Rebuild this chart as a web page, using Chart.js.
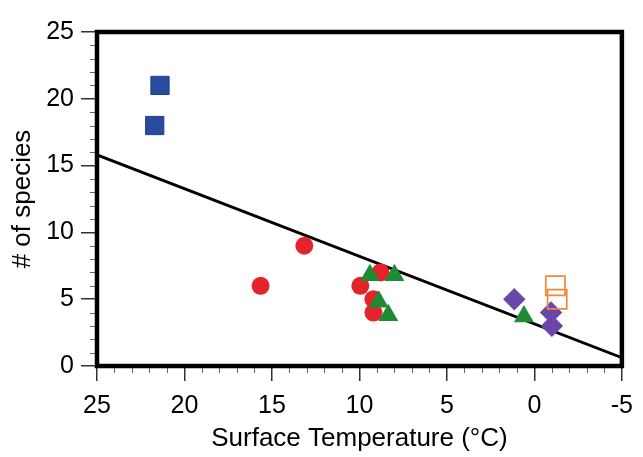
<!DOCTYPE html>
<html><head><meta charset="utf-8">
<script src="https://cdn.jsdelivr.net/npm/chart.js@4.4.0/dist/chart.umd.min.js"></script>
<style>html,body{margin:0;padding:0;background:#fff;}</style>
</head><body>
<canvas id="c" width="643" height="457" style="display:block;width:643px;height:457px"></canvas>
<script>
// ---- data ----
const xTickValues = [25, 20, 15, 10, 5, 0, -5];
const yTickValues = [0, 5, 10, 15, 20, 25];
const blueX = [21.4, 21.7];           const blueY = [21, 18];
const redX = [15.65, 13.15, 9.95, 8.8, 9.2, 9.2];  const redY = [6, 9, 6, 7, 5, 4];
const greenX = [9.4, 8.0, 8.9, 8.35, 0.6];          const greenY = [6.8, 6.8, 4.8, 3.8, 3.7];
const purpleX = [1.15, -0.95, -1.0];  const purpleY = [5, 4, 3];
const orangeX = [-1.2, -1.3];         const orangeY = [6, 5];
const fitX = [25, -5];                const fitY = [15.8, 0.62];
const xTitle = 'Surface Temperature (°C)';
const yTitle = '# of species';
const minorStep = 1;

const pts = (xs, ys) => xs.map((v, i) => ({x: v, y: ys[i]}));
const FONT = '"Liberation Sans", Arial, Helvetica, sans-serif';

const framePlugin = {
  id: 'frame',
  afterDatasetsDraw(chart) {
    const {ctx, chartArea: a, scales: {x, y}} = chart;
    ctx.save();
    ctx.strokeStyle = '#666'; ctx.lineWidth = 1;
    for (let v = x.min; v <= x.max; v += minorStep) {
      if (xTickValues.includes(v)) continue;
      const px = Math.round(x.getPixelForValue(v)) + 0.5;
      ctx.beginPath(); ctx.moveTo(px, a.bottom + 2); ctx.lineTo(px, a.bottom + 7); ctx.stroke();
    }
    for (let v = y.min; v <= y.max; v += minorStep) {
      if (yTickValues.includes(v)) continue;
      const py = Math.round(y.getPixelForValue(v)) + 0.5;
      ctx.beginPath(); ctx.moveTo(a.left - 2, py); ctx.lineTo(a.left - 7, py); ctx.stroke();
    }
    ctx.strokeStyle = '#000'; ctx.lineWidth = 4.5;
    ctx.strokeRect(a.left, a.top, a.right - a.left, a.bottom - a.top);
    ctx.restore();
  }
};

new Chart(document.getElementById('c'), {
  type: 'scatter',
  data: {
    datasets: [
      {data: pts(orangeX, orangeY), pointStyle: 'rect', pointRadius: 13.6, backgroundColor: 'rgba(0,0,0,0)', borderColor: '#f0883a', borderWidth: 1.7},
      {data: pts(purpleX, purpleY), pointStyle: 'rectRot', pointRadius: 11.2, backgroundColor: '#6a46a8', borderColor: '#6a46a8', borderWidth: 0},
      {data: pts(greenX, greenY), pointStyle: 'triangle', pointRadius: 11.5, backgroundColor: '#1f8c35', borderColor: '#1f8c35', borderWidth: 0},
      {data: pts(redX, redY), pointStyle: 'circle', pointRadius: 9, backgroundColor: '#e5232b', borderColor: '#e5232b', borderWidth: 0},
      {data: pts(blueX, blueY), pointStyle: 'rect', pointRadius: 12.9, backgroundColor: '#2a4a9e', borderColor: '#223d8a', borderWidth: 1},
      {type: 'line', data: pts(fitX, fitY), borderColor: '#000', borderWidth: 2.8, pointRadius: 0, fill: false, order: 10}
    ]
  },
  options: {
    responsive: false, animation: false, devicePixelRatio: 1,
    events: [],
    layout: {padding: {left: 0, top: 32, right: 18, bottom: 0}},
    plugins: {legend: {display: false}, tooltip: {enabled: false}},
    scales: {
      x: {
        type: 'linear', min: -5, max: 25, reverse: true,
        afterFit: s => { s.height = 91; },
        afterBuildTicks: s => { s.ticks = xTickValues.map(v => ({value: v})); },
        ticks: {color: '#000', font: {family: FONT, size: 25}, padding: 10, callback: v => String(v)},
        grid: {drawOnChartArea: false, drawTicks: true, tickLength: 15, color: '#333', lineWidth: 1.5},
        border: {display: false},
        title: {display: true, text: xTitle, color: '#000', font: {family: FONT, size: 26}, padding: {top: 0, bottom: 2.5}}
      },
      y: {
        type: 'linear', min: 0, max: 25,
        afterFit: s => { s.width = 97; },
        afterBuildTicks: s => { s.ticks = yTickValues.map(v => ({value: v})); },
        ticks: {color: '#000', font: {family: FONT, size: 25}, padding: 7, callback: v => String(v)},
        grid: {drawOnChartArea: false, drawTicks: true, tickLength: 16, color: '#333', lineWidth: 1.5},
        border: {display: false},
        title: {display: true, text: yTitle, color: '#000', font: {family: FONT, size: 26}, padding: {top: 7, bottom: 0}}
      }
    }
  },
  plugins: [framePlugin]
});
</script>
</body></html>
